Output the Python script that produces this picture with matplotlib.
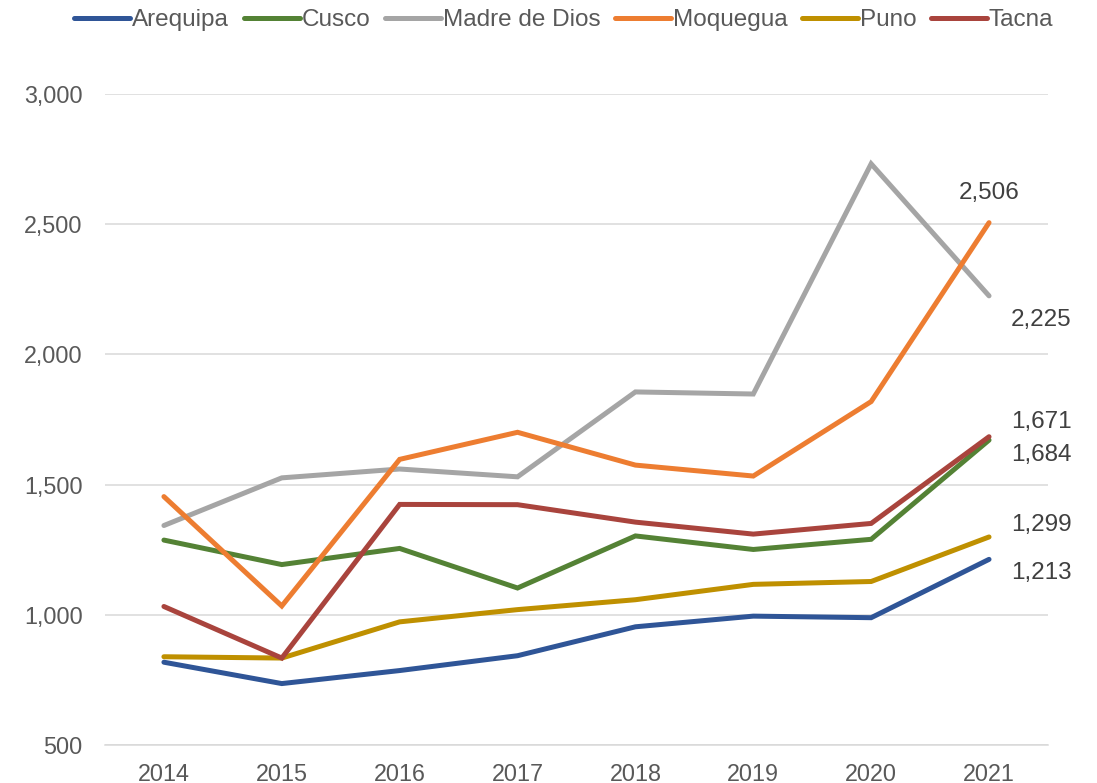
import matplotlib.pyplot as plt
import numpy as np

# datos por region (2014-2021)
anios = ['2014', '2015', '2016', '2017', '2018', '2019', '2020', '2021']
arequipa = [818, 736, 786, 843, 954, 995, 989, 1213]
cusco = [1287, 1193, 1255, 1103, 1303, 1251, 1290, 1671]
madre_de_dios = [1343, 1526, 1560, 1530, 1856, 1848, 2732, 2225]
moquegua = [1454, 1034, 1597, 1701, 1575, 1533, 1819, 2506]
puno = [839, 834, 973, 1020, 1058, 1117, 1128, 1299]
tacna = [1032, 834, 1424, 1423, 1356, 1310, 1351, 1684]

series = [
    ('Arequipa', arequipa, '#2F5597', (52, -14)),
    ('Cusco', cusco, '#548235', (52, 18)),
    ('Madre de Dios', madre_de_dios, '#A5A5A5', (52, -24)),
    ('Moquegua', moquegua, '#ED7D31', (0, 30)),
    ('Puno', puno, '#BF9000', (52, 12)),
    ('Tacna', tacna, '#A9443D', (52, -18)),
]

plt.rcParams['font.family'] = ['Liberation Sans', 'DejaVu Sans']

fig = plt.figure(figsize=(10.97, 7.83), dpi=100)
ax = fig.add_axes([0.0957, 0.0485, 0.8596, 0.8314])

x = np.arange(len(anios))
for nombre, valores, color, off in series:
    ax.plot(x, valores, color=color, linewidth=3.6, label=nombre,
            solid_capstyle='round', solid_joinstyle='miter')
    ax.annotate(f'{valores[-1]:,}', (x[-1], valores[-1]), xytext=off,
                textcoords='offset pixels', ha='center', va='center',
                fontsize=17.5, color='#404040')

ax.set_xlim(-0.5, len(anios) - 0.5)
ax.set_ylim(500, 3000)
ax.set_yticks(range(500, 3001, 500))
ax.yaxis.set_major_formatter(plt.FuncFormatter(lambda v, p: f'{int(v):,}'))
ax.set_xticks(x)
ax.set_xticklabels(anios)

ax.grid(axis='y', color='#D9D9D9', linewidth=1.1)
ax.set_axisbelow(True)
for s in ['top', 'right', 'left']:
    ax.spines[s].set_visible(False)
ax.spines['bottom'].set_color('#D9D9D9')
ax.spines['bottom'].set_linewidth(1.1)
ax.tick_params(length=0, labelsize=16.8, labelcolor='#595959')
ax.tick_params(axis='x', pad=13)
ax.tick_params(axis='y', pad=16)

fig.legend(loc='center', bbox_to_anchor=(0.514, 0.974), ncol=6, frameon=False,
           fontsize=17.5, labelcolor='#595959', handlelength=2.3,
           handletextpad=0.08, columnspacing=0.6)

plt.savefig('out.png', dpi=100)
